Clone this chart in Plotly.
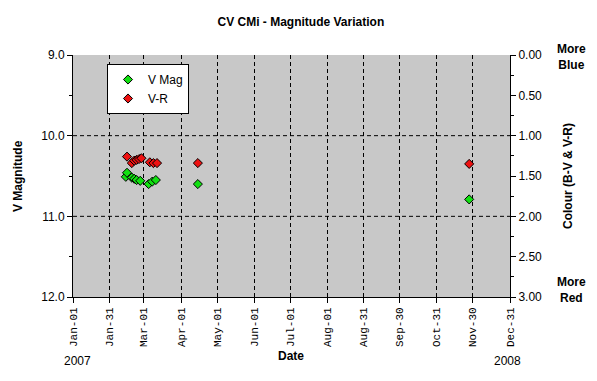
import plotly.graph_objects as go

# ---- data ----
vmag_dates = ["2007-02-14", "2007-02-15", "2007-02-19", "2007-02-21", "2007-02-23", "2007-02-26",
              "2007-03-05", "2007-03-08", "2007-03-11", "2007-04-15", "2007-11-27"]
vmag_values = [10.51, 10.46, 10.52, 10.535, 10.55, 10.56, 10.60, 10.57, 10.55, 10.60, 10.79]

vr_dates = ["2007-02-15", "2007-02-19", "2007-02-21", "2007-02-23", "2007-02-25", "2007-02-27",
            "2007-03-06", "2007-03-09", "2007-03-12", "2007-04-15", "2007-11-27"]
vr_values = [1.26, 1.34, 1.31, 1.30, 1.29, 1.28, 1.33, 1.34, 1.34, 1.34, 1.35]

x_tick_dates = ["2007-01-01", "2007-01-31", "2007-03-01", "2007-04-01", "2007-05-01", "2007-06-01",
                "2007-07-01", "2007-08-01", "2007-08-31", "2007-09-30", "2007-10-31", "2007-11-30",
                "2007-12-31"]
x_tick_labels = ["Jan-01", "Jan-31", "Mar-01", "Apr-01", "May-01", "Jun-01", "Jul-01", "Aug-01",
                 "Aug-31", "Sep-30", "Oct-31", "Nov-30", "Dec-31"]
mag_ticks = [9.0, 10.0, 11.0, 12.0]
mag_grid = [10.0, 11.0]
colour_ticks = [0.0, 0.5, 1.0, 1.5, 2.0, 2.5, 3.0]

FONT = "Liberation Sans, Arial, sans-serif"
DASH = "4px,3px"

fig = go.Figure()
fig.add_trace(go.Scatter(
    x=vmag_dates, y=vmag_values, mode="markers", name="V Mag",
    marker=dict(symbol="diamond", size=7, color="#11e011", line=dict(color="black", width=1)),
    yaxis="y"))
fig.add_trace(go.Scatter(
    x=vr_dates, y=vr_values, mode="markers", name="V-R",
    marker=dict(symbol="diamond", size=7, color="#ee1111", line=dict(color="black", width=1)),
    yaxis="y2"))

for g in mag_grid:
    fig.add_shape(type="line", xref="paper", x0=0, x1=1, yref="y", y0=g, y1=g,
                  line=dict(color="black", width=1, dash=DASH), layer="below")

fig.update_layout(
    width=597, height=381,
    margin=dict(l=73, r=87, t=55, b=84),
    paper_bgcolor="white", plot_bgcolor="#c8c8c8",
    font=dict(family=FONT, size=12, color="black"),
    title=dict(text="<b>CV CMi - Magnitude Variation</b>", x=0.504, xanchor="center",
               y=1 - 22 / 381, yanchor="middle", font=dict(size=12)),
    xaxis=dict(type="date", range=["2007-01-01", "2007-12-31"],
               tickvals=x_tick_dates, ticktext=x_tick_labels, tickangle=-90,
               tickfont=dict(family="Liberation Mono, Courier New, monospace", size=11),
               ticks="outside", ticklen=5, tickcolor="black",
               showline=True, linecolor="black", linewidth=1,
               showgrid=True, gridcolor="black", griddash=DASH, gridwidth=1,
               zeroline=False),
    yaxis=dict(range=[12, 9], tickvals=mag_ticks, tickformat=".1f",
               ticks="outside", ticklen=5, tickcolor="black",
               minor=dict(dtick=0.5, ticks="outside", ticklen=3, tickcolor="black", showgrid=False),
               showline=True, linecolor="black", linewidth=1, showgrid=False, zeroline=False),
    yaxis2=dict(range=[3, 0], overlaying="y", side="right", tickvals=colour_ticks, tickformat=".2f",
                ticks="outside", ticklen=5, tickcolor="black",
                minor=dict(dtick=0.25, ticks="outside", ticklen=3, tickcolor="black", showgrid=False),
                showline=True, linecolor="black", linewidth=1, showgrid=False, zeroline=False),
    legend=dict(x=(107 - 73) / 437, y=(297 - 64) / 242, xanchor="left", yanchor="top",
                bgcolor="white", bordercolor="black", borderwidth=1,
                font=dict(size=12), itemwidth=30, tracegroupgap=0),
    showlegend=True,
)

def ann(text, px, py, angle=0, bold=True, size=12):
    fig.add_annotation(text=f"<b>{text}</b>" if bold else text,
                       xref="paper", yref="paper",
                       x=(px - 73) / 437, y=(297 - py) / 242,
                       xanchor="center", yanchor="middle", showarrow=False,
                       textangle=angle, font=dict(size=size))

ann("V Magnitude", 18, 176, angle=-90)
ann("Colour (B-V &amp; V-R)", 568, 176, angle=-90)
ann("More<br>Blue", 571, 57)
ann("More<br>Red", 571, 290)
ann("Date", 291, 356)
ann("2007", 77, 361, bold=False)
ann("2008", 507, 361, bold=False)

fig.write_html("out.html", config={"displayModeBar": False},
               post_script="document.body.style.margin='0';document.body.style.overflow='hidden';")
